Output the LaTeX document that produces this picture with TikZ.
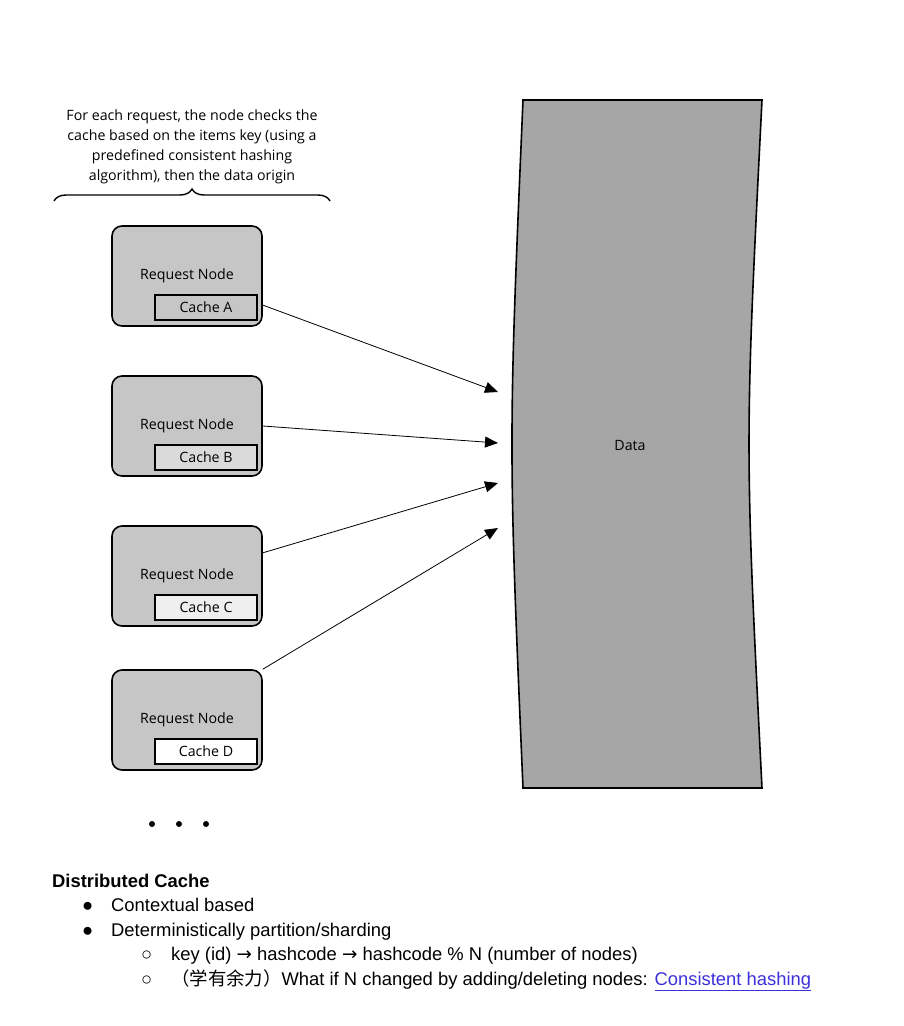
\documentclass[tikz,border=0pt]{standalone}
\usepackage{fontspec}
\setmainfont{Open Sans}
\newfontfamily\docfont{Liberation Sans}
\newfontfamily\symfont{DejaVu Sans}
\newfontfamily\cjkfont{Noto Sans CJK SC}
\usetikzlibrary{arrows.meta}
\usetikzlibrary{positioning}
\usetikzlibrary{decorations.pathreplacing}
\definecolor{nodegray}{HTML}{C6C6C6}
\definecolor{datagray}{HTML}{A6A6A6}
\definecolor{cachea}{HTML}{C6C6C6}
\definecolor{cacheb}{HTML}{DADADA}
\definecolor{cachec}{HTML}{EFEFEF}
\definecolor{linkblue}{HTML}{3B30DA}
\newcommand{\diafont}{\fontsize{14.2}{20}\selectfont}
\newcommand{\txtfont}{\docfont\fontsize{18.4}{22}\selectfont}
\newcommand{\toarrow}{{\symfont →}}

\begin{document}
\begin{tikzpicture}[x=1pt, y=-1pt,
        reqnode/.style={draw, rounded corners=10pt, fill=nodegray, line width=1.6pt,
                minimum width=150pt, minimum height=100pt, font=\diafont},
        cachebox/.style={draw, line width=2.2pt, minimum width=102pt, minimum height=25pt,
                inner sep=0pt, font=\diafont},
        feed/.style={-{Triangle[length=13pt, width=11pt]}, line width=0.8pt},
        line/.style={anchor=base west, inner sep=0pt, font=\txtfont}]
        \useasboundingbox (0,0) rectangle (903,1026);

        \node (note) [align=center, font=\diafont] at (192,147)
                {For each request, the node checks the\\ cache based on the items key (using a\\
                 predefined consistent hashing\\ algorithm), then the data origin};
        \coordinate (brL) at (54,201);
        \coordinate (brR) at (330,201);
        \draw[decorate, decoration={brace, amplitude=12pt}, line width=1.4pt] (brL) -- (brR);

        \node (nA) [reqnode] at (187,276) {Request Node};
        \node (nB) [reqnode] at (187,426) {Request Node};
        \node (nC) [reqnode] at (187,576) {Request Node};
        \node (nD) [reqnode] at (187,720) {Request Node};

        \node (cA) [cachebox, fill=cachea] at (206,307.5) {Cache A};
        \node (cB) [cachebox, fill=cacheb] at (206,457.5) {Cache B};
        \node (cC) [cachebox, fill=cachec] at (206,607.5) {Cache C};
        \node (cD) [cachebox, fill=white] at (206,751.5) {Cache D};

        \draw[fill=datagray, line width=1.6pt] (523,100) -- (762,100)
                .. controls (744.7,444) .. (762,788) -- (523,788)
                .. controls (508.3,444) .. cycle;
        \node (data) [font=\diafont] at (630,445) {Data};

        \coordinate (tA) at (498,392);
        \coordinate (tB) at (498,443);
        \coordinate (tC) at (498,483);
        \coordinate (tD) at (498,528);

        \draw[feed] (nA.-21.8) -- (tA);
        \draw[feed] (nB.east) -- (tB);
        \draw[feed] (nC.17.7) -- (tC);
        \draw[feed] (nD.north east) -- (tD);

        \fill (152,824) circle (3pt);
        \fill (179,824) circle (3pt);
        \fill (206,824) circle (3pt);

        \node (title) [line] at (52,887) {\bfseries Distributed Cache};
        \node (b1) [line] at (82,911) {●};
        \node (t1) [line] at (111,911) {Contextual based};
        \node (b2) [line] at (82,936) {●};
        \node (t2) [line] at (111,936) {Deterministically partition/sharding};
        \node (b3) [line] at (141,960) {○};
        \node (t3) [line] at (171,960) {key (id) \toarrow{} hashcode \toarrow{} hashcode \% N (number of nodes)};
        \node (b4) [line] at (141,985) {○};
        \node (t4) [line] at (171,985) {{\cjkfont （学有余力）}What if N changed by adding/deleting nodes:
                \textcolor{linkblue}{\underline{Consistent hashing}}};
\end{tikzpicture}
\end{document}
